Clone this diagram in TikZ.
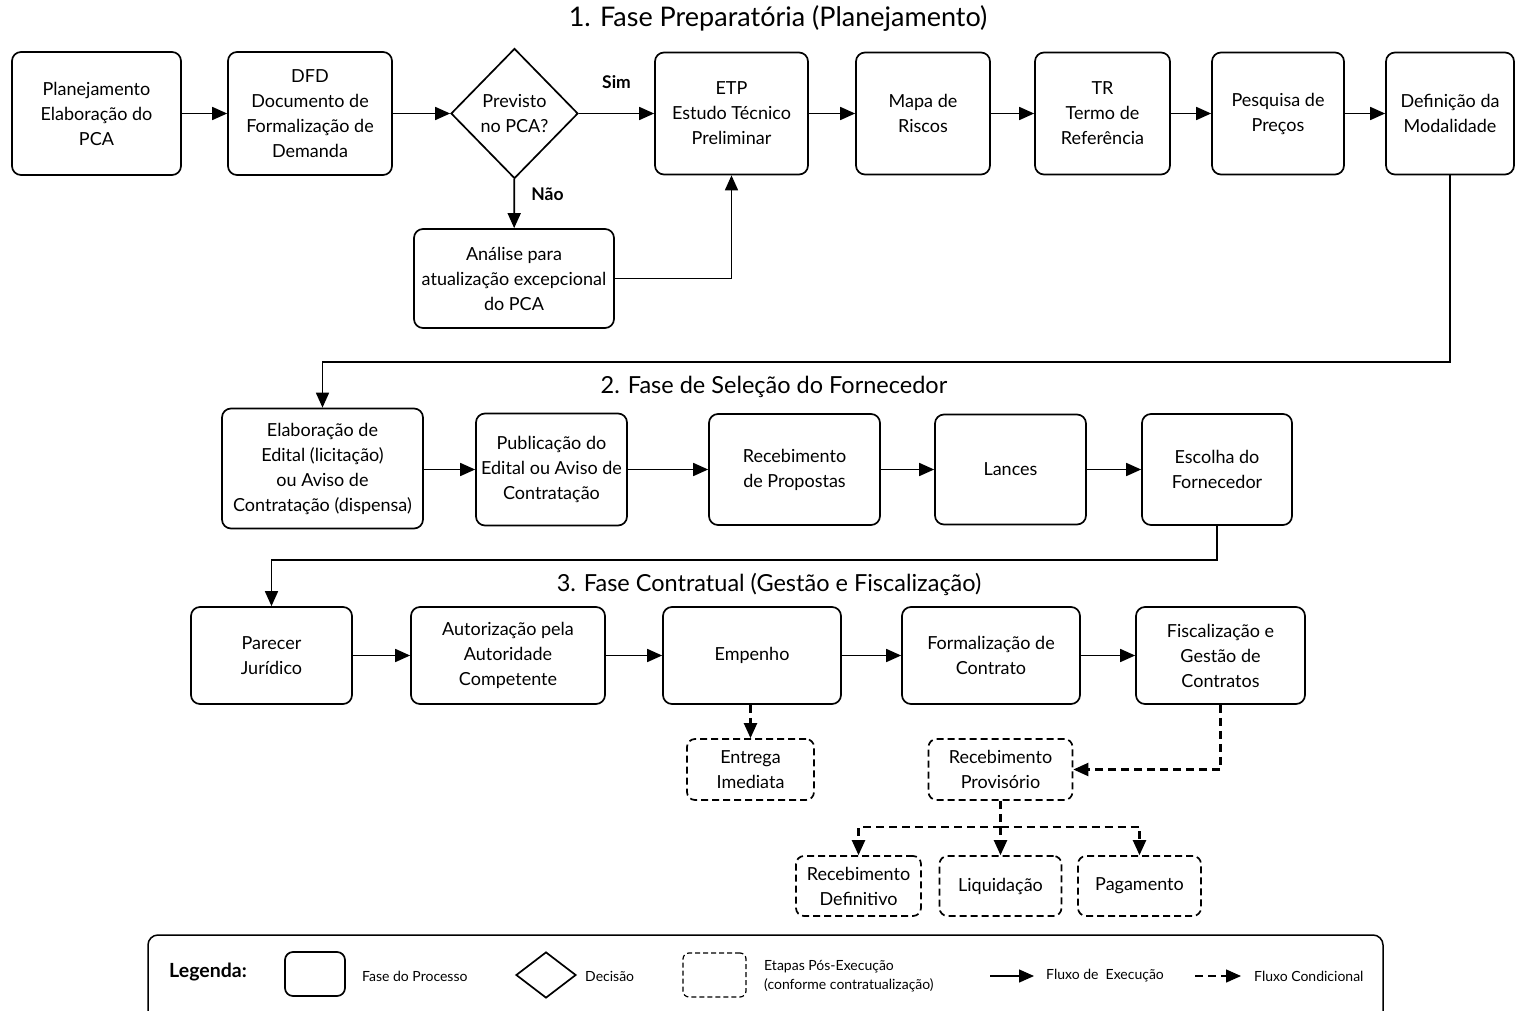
\documentclass[tikz,border=0pt]{standalone}
\usepackage{fontspec}
\setmainfont{Lato}
\usetikzlibrary{arrows.meta,shapes.geometric,positioning}

\begin{document}
\begin{tikzpicture}[x=1pt,y=-1pt,
	line width=1.7pt,
	>={Triangle[length=15pt,width=13pt]},
	fase/.style={draw, rounded corners=9pt, align=center, inner sep=0pt, font=\fontsize{18}{25}\selectfont},
	posexec/.style={fase, dash pattern=on 7pt off 4pt, rounded corners=8pt},
	decisao/.style={draw, diamond, aspect=1, align=center, inner sep=0pt, font=\fontsize{18}{25}\selectfont},
	cond/.style={->, line width=2.2pt, dash pattern=on 8pt off 5pt},
	titulo/.style={font=\fontsize{23.5}{28}\selectfont},
	resposta/.style={font=\fontsize{17.5}{20}\selectfont\bfseries},
	legtexto/.style={font=\fontsize{14}{19}\selectfont, align=left, anchor=west}]

	\fill[white] (0,0) rectangle (1515,1011);
	\useasboundingbox (0,0) rectangle (1515,1011);
	\clip (0,0) rectangle (1515,1011);

	%Titles
	\node[titulo, font=\fontsize{27}{30}\selectfont] (t1) at (778,18) {1. Fase Preparatória (Planejamento)};
	\node[titulo] (t2) at (774,387) {2. Fase de Seleção do Fornecedor};
	\node[titulo] (t3) at (769,584) {3. Fase Contratual (Gestão e Fiscalização)};

	%1. Fase preparatoria
	\node[fase, minimum width=169pt, minimum height=123pt] (plan) at (96.5,113.5) {Planejamento\\Elaboração do\\PCA};
	\node[fase, minimum width=164pt, minimum height=123pt] (dfd) at (310,113.5) {DFD\\Documento de\\Formalização de\\Demanda};
	\node[decisao, minimum width=127pt, minimum height=130pt] (prev) at (514.5,113.5) {Previsto\\no PCA?};
	\node[fase, minimum width=153pt, minimum height=122pt] (etp) at (731.5,113.5) {ETP\\Estudo Técnico\\Preliminar};
	\node[fase, minimum width=134pt, minimum height=122pt] (mapa) at (923,113.5) {Mapa de\\Riscos};
	\node[fase, minimum width=135pt, minimum height=122pt] (tr) at (1102.5,113.5) {TR\\Termo de\\Referência};
	\node[fase, minimum width=132pt, minimum height=122pt] (pesq) at (1278,113.5) {Pesquisa de\\Preços};
	\node[fase, minimum width=128pt, minimum height=122pt] (modal) at (1450,113.5) {Definição da\\Modalidade};
	\node[fase, minimum width=200pt, minimum height=99pt] (anal) at (514,278.5) {Análise para\\atualização excepcional\\do PCA};

	\draw[->] (plan) -- (dfd);
	\draw[->] (dfd) -- (prev);
	\draw[->] (prev) -- (etp) node[resposta, midway, above=21pt] {Sim};
	\draw[->] (prev) -- (anal) node[resposta, pos=0.3, right=13pt] {Não};
	\draw[->] (anal.east) -| (etp.south);
	\foreach \de/\para in {etp/mapa, mapa/tr, tr/pesq, pesq/modal}{
		\draw[->] (\de) -- (\para);
	}

	%2. Fase de selecao
	\node[fase, minimum width=201pt, minimum height=120pt] (edital) at (322.5,468.5) {Elaboração de\\Edital (licitação)\\ou Aviso de\\Contratação (dispensa)};
	\node[fase, minimum width=151pt, minimum height=112pt] (publ) at (551.5,469.5) {Publicação do\\Edital ou Aviso de\\Contratação};
	\node[fase, minimum width=171pt, minimum height=111pt] (propostas) at (794.5,469.5) {Recebimento\\de Propostas};
	\node[fase, minimum width=151pt, minimum height=110pt] (lances) at (1010.5,469.5) {Lances};
	\node[fase, minimum width=150pt, minimum height=111pt] (escolha) at (1217,469.5) {Escolha do\\Fornecedor};

	\coordinate (dobra1) at (322.5,362);
	\draw[->] (modal.south) |- (dobra1) -- (edital.north);
	\foreach \de/\para in {edital/publ, publ/propostas, propostas/lances, lances/escolha}{
		\draw[->] (\de.east |- 0,469.5) -- (\para.west |- 0,469.5);
	}

	%3. Fase contratual
	\node[fase, minimum width=161pt, minimum height=97pt] (parecer) at (271.5,655.5) {Parecer\\Jurídico};
	\node[fase, minimum width=194pt, minimum height=97pt] (autoriz) at (508,655.5) {Autorização pela\\Autoridade\\Competente};
	\node[fase, minimum width=178pt, minimum height=97pt] (empenho) at (752,655.5) {Empenho};
	\node[fase, minimum width=178pt, minimum height=97pt] (contrato) at (991,655.5) {Formalização de\\Contrato};
	\node[fase, minimum width=169pt, minimum height=97pt] (fiscal) at (1220.5,655.5) {Fiscalização e\\Gestão de\\Contratos};

	\coordinate (dobra2) at (271.5,560);
	\draw[->] (escolha.south) |- (dobra2) -- (parecer.north);
	\foreach \de/\para in {parecer/autoriz, autoriz/empenho, empenho/contrato, contrato/fiscal}{
		\draw[->] (\de) -- (\para);
	}

	%Pos-execucao
	\node[posexec, minimum width=127pt, minimum height=61pt] (entrega) at (750.5,769.5) {Entrega\\Imediata};
	\node[posexec, minimum width=144pt, minimum height=61pt] (provis) at (1000.5,769.5) {Recebimento\\Provisório};
	\node[posexec, minimum width=125pt, minimum height=60pt] (defin) at (858.5,886) {Recebimento\\Definitivo};
	\node[posexec, minimum width=122pt, minimum height=60pt] (liq) at (1000.5,886) {Liquidação};
	\node[posexec, minimum width=123pt, minimum height=60pt] (pag) at (1139.5,886) {Pagamento};

	\draw[cond] (empenho.south -| entrega.north) -- (entrega.north);
	\draw[cond] (fiscal.south) |- (provis.east);
	\coordinate (ramo) at (1000.5,827);
	\draw[line width=2.2pt, dash pattern=on 8pt off 5pt] (provis.south) -- (ramo);
	\draw[cond] (ramo) -- (liq.north);
	\draw[cond] (ramo) -| (defin.north);
	\draw[cond] (ramo) -| (pag.north);

	%Legenda
	\node[draw, rounded corners=10pt, line width=1.5pt, minimum width=1235pt, minimum height=100pt] (legenda) at (765.5,985) {};
	\node[font=\fontsize{19.5}{22}\selectfont\bfseries] (legtit) at (208,972) {Legenda:};
	\node[draw, rounded corners=8pt, minimum width=60pt, minimum height=44pt] (legfase) at (315,974) {};
	\node[legtexto] (legfasetxt) at (358,976) {Fase do Processo};
	\node[draw, diamond, aspect=1.3, inner sep=0pt, minimum width=60pt, minimum height=46pt] (legdec) at (546,975) {};
	\node[legtexto] (legdectxt) at (581,976) {Decisão};
	\node[draw, rounded corners=6pt, dash pattern=on 5pt off 3pt, line width=1.2pt, minimum width=63pt, minimum height=44pt] (legpos) at (714.5,975) {};
	\node[legtexto] (legpostxt) at (760,976) {Etapas Pós-Execução\\(conforme contratualização)};
	\coordinate (legA1) at (990,976);
	\coordinate (legA2) at (1034,976);
	\draw[->, line width=1.4pt] (legA1) -- (legA2);
	\node[legtexto] (legexec) at (1042,976) {Fluxo de\ \ Execução};
	\coordinate (legB1) at (1195,976);
	\coordinate (legB2) at (1241,976);
	\draw[cond, line width=1.4pt] (legB1) -- (legB2);
	\node[legtexto] (legcond) at (1250,976) {Fluxo Condicional};

\end{tikzpicture}
\end{document}
